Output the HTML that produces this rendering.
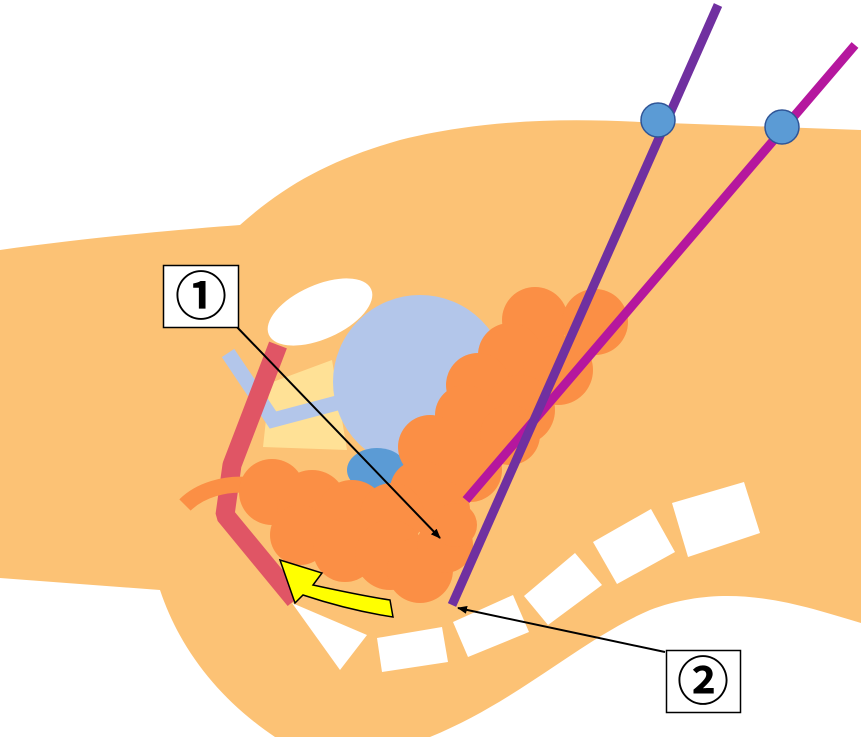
<!DOCTYPE html>
<html><head><style>html,body{margin:0;padding:0;background:#fff}svg{display:block}</style></head><body>
<svg width="861" height="737" viewBox="0 0 861 737" xmlns="http://www.w3.org/2000/svg">
<defs><marker id="ah" markerWidth="10" markerHeight="8" refX="9" refY="4" orient="auto" markerUnits="userSpaceOnUse"><path d="M0,0 L10,4 L0,8 Z" fill="#000"/></marker></defs>
<path d="M0,250 C100,236 200,228 240,225 C285,185 330,160 400,140 C480,120 560,118 640,122 L861,130 L861,623 C800,605 730,580 650,610 C580,640 520,700 430,737 L275,737 C220,700 180,650 160,590 L0,578 Z" fill="#FCC275"/>
<g fill="#fff">
<polygon points="672,503 744,482 760,533 688,557"/>
<polygon points="593,542 651,509 675,552 617,584"/>
<polygon points="524,596 575,553 602,585 548,625"/>
<polygon points="453,622 513,595 529,632 468,657"/>
<polygon points="377,638 442,627 448,662 382,672"/>
<polygon points="292,603 367,635 340,670"/>
</g>
<ellipse cx="320" cy="312" rx="56" ry="27" transform="rotate(-24 320 312)" fill="#fff"/>
<polygon points="270,383 332,360 347,450 263,447" fill="#FFE196"/>
<circle cx="420" cy="382" r="87" fill="#B3C6EA"/>
<polyline points="228,353 273,420 337,403" fill="none" stroke="#B3C6EA" stroke-width="15"/>
<polyline points="278,345 232,465 225,515 295,600" fill="none" stroke="#E05565" stroke-width="19" stroke-linejoin="bevel"/>
<ellipse cx="377" cy="470" rx="30" ry="22" fill="#5B9BD5"/>
<path d="M185,505 C200,490 225,483 248,485" fill="none" stroke="#FB8F45" stroke-width="16"/>
<g fill="#FB8F45">
<circle cx="535" cy="320" r="33"/><circle cx="595" cy="322" r="33"/>
<circle cx="510" cy="355" r="32"/><circle cx="558" cy="370" r="35"/>
<circle cx="478" cy="385" r="32"/><circle cx="520" cy="410" r="35"/>
<circle cx="465" cy="415" r="30"/><circle cx="510" cy="435" r="30"/>
<circle cx="430" cy="447" r="32"/><circle cx="470" cy="470" r="32"/>
<circle cx="420" cy="490" r="30"/><circle cx="440" cy="510" r="30"/>
<circle cx="272" cy="492" r="33"/><circle cx="312" cy="505" r="35"/>
<circle cx="352" cy="515" r="35"/><circle cx="392" cy="515" r="32"/>
<circle cx="300" cy="535" r="30"/><circle cx="345" cy="550" r="32"/>
<circle cx="390" cy="555" r="35"/><circle cx="420" cy="570" r="33"/>
<circle cx="445" cy="545" r="28"/><circle cx="455" cy="525" r="22"/>
</g>
<line x1="855" y1="45" x2="466" y2="500" stroke="#B5179E" stroke-width="9"/>
<line x1="718" y1="5" x2="452" y2="605" stroke="#7030A0" stroke-width="9"/>
<circle cx="658" cy="120" r="17" fill="#5B9BD5" stroke="#2F5597" stroke-width="1.5"/>
<circle cx="782" cy="127" r="17" fill="#5B9BD5" stroke="#2F5597" stroke-width="1.5"/>
<path d="M280,560 L322,573 L313,585 C345,592 370,597 390,600 L393,617 C360,612 330,604 303,595 L295,603 Z" fill="#FFFF00" stroke="#000" stroke-width="1.5"/>
<line x1="235" y1="325" x2="440" y2="538" stroke="#000" stroke-width="2" marker-end="url(#ah)"/>
<line x1="665" y1="652" x2="458" y2="608" stroke="#000" stroke-width="2" marker-end="url(#ah)"/>
<rect x="163.5" y="265.5" width="75" height="62" fill="#fff" stroke="#000" stroke-width="1.5"/>
<text x="201" y="315" text-anchor="middle" font-family="'Noto Sans CJK JP',sans-serif" font-weight="bold" font-size="52">①</text>
<rect x="666.5" y="650.5" width="74" height="62" fill="#fff" stroke="#000" stroke-width="1.5"/>
<text x="703" y="700" text-anchor="middle" font-family="'Noto Sans CJK JP',sans-serif" font-weight="bold" font-size="52">②</text>
</svg>
</body></html>
